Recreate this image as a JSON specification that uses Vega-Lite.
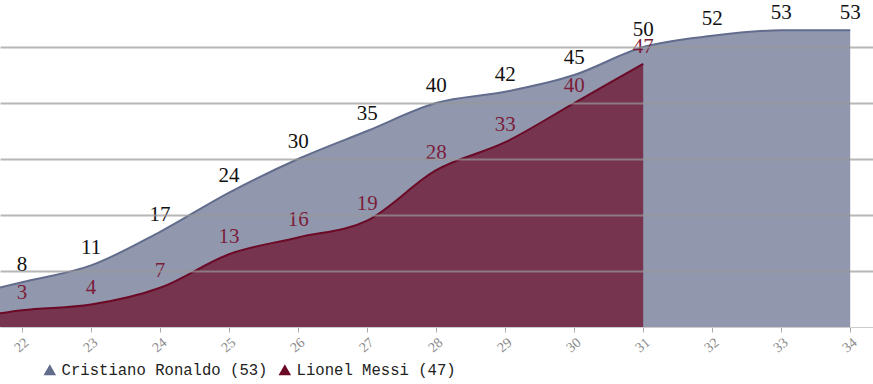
{
  "$schema": "https://vega.github.io/schema/vega-lite/v6.json",
  "width": 873,
  "height": 327,
  "padding": {"left": 0, "top": 0, "right": 0, "bottom": 57},
  "autosize": {"type": "none"},
  "background": "white",
  "config": {"view": {"stroke": null}},
  "data": {
    "values": [
      {"age": 21, "goals": 5, "player": "Cristiano Ronaldo (53)", "show": false},
      {"age": 22, "goals": 8, "player": "Cristiano Ronaldo (53)", "show": true},
      {"age": 23, "goals": 11, "player": "Cristiano Ronaldo (53)", "show": true},
      {"age": 24, "goals": 17, "player": "Cristiano Ronaldo (53)", "show": true},
      {"age": 25, "goals": 24, "player": "Cristiano Ronaldo (53)", "show": true},
      {"age": 26, "goals": 30, "player": "Cristiano Ronaldo (53)", "show": true},
      {"age": 27, "goals": 35, "player": "Cristiano Ronaldo (53)", "show": true},
      {"age": 28, "goals": 40, "player": "Cristiano Ronaldo (53)", "show": true},
      {"age": 29, "goals": 42, "player": "Cristiano Ronaldo (53)", "show": true},
      {"age": 30, "goals": 45, "player": "Cristiano Ronaldo (53)", "show": true},
      {"age": 31, "goals": 50, "player": "Cristiano Ronaldo (53)", "show": true},
      {"age": 32, "goals": 52, "player": "Cristiano Ronaldo (53)", "show": true},
      {"age": 33, "goals": 53, "player": "Cristiano Ronaldo (53)", "show": true},
      {"age": 34, "goals": 53, "player": "Cristiano Ronaldo (53)", "show": true},
      {"age": 21, "goals": 1, "player": "Lionel Messi (47)", "show": false},
      {"age": 22, "goals": 3, "player": "Lionel Messi (47)", "show": true},
      {"age": 23, "goals": 4, "player": "Lionel Messi (47)", "show": true},
      {"age": 24, "goals": 7, "player": "Lionel Messi (47)", "show": true},
      {"age": 25, "goals": 13, "player": "Lionel Messi (47)", "show": true},
      {"age": 26, "goals": 16, "player": "Lionel Messi (47)", "show": true},
      {"age": 27, "goals": 19, "player": "Lionel Messi (47)", "show": true},
      {"age": 28, "goals": 28, "player": "Lionel Messi (47)", "show": true},
      {"age": 29, "goals": 33, "player": "Lionel Messi (47)", "show": true},
      {"age": 30, "goals": 40, "player": "Lionel Messi (47)", "show": true},
      {"age": 31, "goals": 47, "player": "Lionel Messi (47)", "show": true}
    ]
  },
  "encoding": {
    "x": {
      "field": "age", "type": "quantitative",
      "scale": {"domain": [21.68, 34.33], "nice": false, "zero": false},
      "axis": {
        "title": null, "values": [22,23,24,25,26,27,28,29,30,31,32,33,34],
        "grid": false, "labelAngle": -40, "labelFont": "Liberation Serif",
        "labelFontSize": 14, "labelColor": "#8a8a8a", "tickColor": "#aaaaaa",
        "tickSize": 5, "domainColor": "#cccccc", "labelPadding": 3
      }
    },
    "y": {
      "field": "goals", "type": "quantitative",
      "scale": {"domain": [0, 58.4], "nice": false},
      "axis": {
        "title": null, "labels": false, "ticks": false, "domain": false,
        "values": [10, 20, 30, 40, 50], "grid": true, "gridColor": "#999999",
        "gridOpacity": 0.7, "gridWidth": 2, "zindex": 1
      }
    }
  },
  "layer": [
    {
      "transform": [{"filter": "datum.player == 'Cristiano Ronaldo (53)'"}],
      "mark": {"type": "area", "interpolate": "monotone", "clip": true, "fillOpacity": 0.7, "line": {"strokeWidth": 2, "color": "#626c8c"}},
      "encoding": {
        "color": {
          "field": "player", "type": "nominal",
          "scale": {"domain": ["Cristiano Ronaldo (53)", "Lionel Messi (47)"], "range": ["#626c8c", "#6b0a26"]},
          "legend": {
            "title": null, "orient": "none", "legendX": 42, "legendY": 362, "direction": "horizontal",
            "symbolType": "triangle-up", "symbolSize": 100, "symbolOpacity": 1,
            "labelFont": "Liberation Mono", "labelFontSize": 15.6, "labelColor": "#222222",
            "labelLimit": 400, "columnPadding": 8, "symbolOffset": 0, "labelOffset": 4
          }
        }
      }
    },
    {
      "transform": [{"filter": "datum.player == 'Lionel Messi (47)'"}],
      "mark": {"type": "area", "interpolate": "monotone", "clip": true, "fillOpacity": 0.7, "line": {"strokeWidth": 2, "color": "#6b0a26"}},
      "encoding": {
        "color": {"field": "player", "type": "nominal"}
      }
    },
    {
      "transform": [{"filter": "datum.show && datum.player == 'Cristiano Ronaldo (53)'"}],
      "mark": {"type": "text", "font": "Liberation Serif", "fontSize": 21, "baseline": "middle", "dy": -17, "color": "#111111"},
      "encoding": {"text": {"field": "goals"}}
    },
    {
      "transform": [{"filter": "datum.show && datum.player == 'Lionel Messi (47)'"}],
      "mark": {"type": "text", "font": "Liberation Serif", "fontSize": 21, "baseline": "middle", "dy": -17, "color": "#7b1d3a"},
      "encoding": {"text": {"field": "goals"}}
    }
  ]
}
